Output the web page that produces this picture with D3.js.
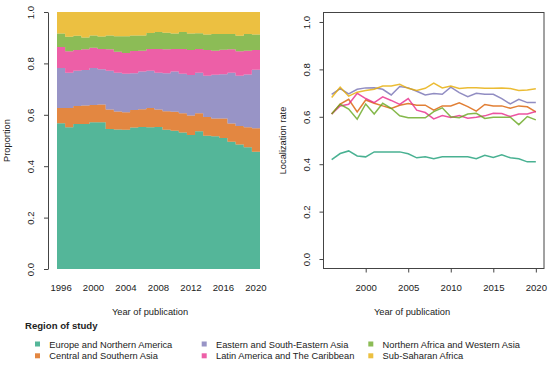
<!DOCTYPE html>
<html>
<head>
<meta charset="utf-8">
<script src="https://cdn.jsdelivr.net/npm/d3@7"></script>
<style>
  body { margin: 0; background: #fff; }
  svg text { font-family: "Liberation Sans", Arial, sans-serif; fill: #222; }
</style>
</head>
<body>
<div id="chart"></div>
<script>
// ---- data ----
const years = d3.range(1996, 2021);
const regions = [
    "Europe and Northern America",
    "Central and Southern Asia",
    "Eastern and South-Eastern Asia",
    "Latin America and The Caribbean",
    "Northern Africa and Western Asia",
    "Sub-Saharan Africa"
];
const colors = ["#1B9E77", "#D95F02", "#7570B3", "#E7298A", "#66A61E", "#E6AB02"];

// share of studies per region and year (left panel)
const shareEurope   = [0.567,0.552,0.564,0.564,0.571,0.571,0.545,0.543,0.542,0.551,0.553,0.552,0.553,0.542,0.538,0.531,0.521,0.536,0.518,0.517,0.510,0.495,0.484,0.474,0.456];
const shareCentral  = [0.059,0.074,0.070,0.072,0.067,0.069,0.076,0.070,0.068,0.068,0.069,0.074,0.068,0.072,0.074,0.075,0.076,0.070,0.073,0.069,0.076,0.071,0.072,0.078,0.092];
const shareEastern  = [0.156,0.138,0.137,0.138,0.144,0.137,0.150,0.151,0.150,0.143,0.146,0.145,0.143,0.148,0.156,0.154,0.158,0.158,0.161,0.170,0.172,0.198,0.196,0.205,0.227];
const shareLatin    = [0.082,0.083,0.081,0.081,0.079,0.079,0.084,0.081,0.080,0.086,0.081,0.085,0.092,0.093,0.088,0.096,0.097,0.092,0.100,0.093,0.095,0.091,0.095,0.092,0.077];
const shareNAfrica  = [0.052,0.057,0.056,0.046,0.048,0.049,0.054,0.061,0.066,0.061,0.060,0.062,0.066,0.064,0.060,0.066,0.064,0.061,0.060,0.065,0.061,0.059,0.061,0.065,0.060];
const shareSubSahar = [0.084,0.096,0.092,0.099,0.091,0.095,0.091,0.094,0.094,0.091,0.091,0.082,0.078,0.081,0.084,0.078,0.084,0.083,0.088,0.086,0.086,0.086,0.092,0.086,0.088];

// localization rate per region and year (right panel)
const rateEurope   = [0.419,0.445,0.456,0.435,0.431,0.452,0.452,0.452,0.452,0.444,0.427,0.431,0.423,0.431,0.431,0.431,0.431,0.423,0.438,0.428,0.440,0.427,0.423,0.410,0.410];
const rateCentral  = [0.612,0.654,0.674,0.621,0.671,0.657,0.646,0.635,0.649,0.656,0.649,0.649,0.628,0.646,0.646,0.659,0.643,0.624,0.652,0.646,0.646,0.636,0.646,0.642,0.621];
const rateEastern  = [0.695,0.719,0.697,0.716,0.722,0.723,0.716,0.692,0.728,0.722,0.708,0.692,0.698,0.695,0.725,0.702,0.685,0.699,0.695,0.695,0.677,0.654,0.674,0.660,0.660];
const rateLatin    = [0.612,0.646,0.653,0.699,0.677,0.660,0.684,0.669,0.652,0.677,0.628,0.618,0.591,0.605,0.597,0.605,0.594,0.598,0.604,0.615,0.614,0.601,0.612,0.612,0.622];
const rateNAfrica  = [0.612,0.653,0.633,0.590,0.654,0.612,0.657,0.636,0.604,0.596,0.596,0.596,0.622,0.638,0.600,0.596,0.612,0.615,0.593,0.598,0.598,0.598,0.567,0.601,0.587];
const rateSubSahar = [0.681,0.725,0.687,0.704,0.711,0.716,0.730,0.730,0.737,0.720,0.711,0.720,0.742,0.722,0.730,0.719,0.723,0.723,0.720,0.720,0.722,0.719,0.711,0.713,0.718];

const leftTicksX = [1996, 2000, 2004, 2008, 2012, 2016, 2020];
const rightTicksX = [2000, 2005, 2010, 2015, 2020];
const ticksY = [0, 0.2, 0.4, 0.6, 0.8, 1.0];

const shares = [shareEurope, shareCentral, shareEastern, shareLatin, shareNAfrica, shareSubSahar];
const rates = [rateEurope, rateCentral, rateEastern, rateLatin, rateNAfrica, rateSubSahar];

// ---- svg ----
const width = 550, height = 367;
const svg = d3.select("#chart").append("svg")
    .attr("width", width)
    .attr("height", height);

const fmt = d3.format(".1f");
const axisColor = "#444";
const tickFont = "9.6px", titleFont = "9.3px";

// rotate y tick labels like base R (las = 0)
function styleYAxis(g) {
    g.select(".domain").attr("stroke", axisColor);
    g.selectAll(".tick line").attr("stroke", axisColor);
    g.selectAll(".tick text")
        .attr("x", null).attr("dy", null)
        .attr("transform", "translate(-14,0) rotate(-90)")
        .attr("text-anchor", "middle")
        .style("font-size", tickFont)
        .attr("fill", "#222");
}

// ---- left panel: stacked proportions ----
const table = years.map((y, i) => {
    const row = {year: y};
    regions.forEach((r, k) => row[r] = shares[k][i]);
    return row;
});
const stacked = d3.stack().keys(regions)(table);

const xL = d3.scaleLinear().domain([1995.5, 2020.5]).range([57, 260]);
const yL = d3.scaleLinear().domain([0, 1]).range([269, 12]);

const stepArea = d3.area()
    .curve(d3.curveStepAfter)
    .x(d => xL(d.x))
    .y0(d => yL(d.y0))
    .y1(d => yL(d.y1));

const left = svg.append("g");
stacked.forEach((layer, k) => {
    // each year covers [year - 0.5, year + 0.5]
    const pts = layer.map(d => ({x: d.data.year - 0.5, y0: d[0], y1: d[1]}));
    const last = layer[layer.length - 1];
    pts.push({x: last.data.year + 0.5, y0: last[0], y1: last[1]});
    left.append("path")
        .datum(pts)
        .attr("d", stepArea)
        .attr("fill", colors[k])
        .attr("fill-opacity", 0.75);
});

left.append("g")
    .attr("transform", "translate(48,0)")
    .call(d3.axisLeft(yL).tickValues(ticksY).tickFormat(fmt).tickSize(4).tickSizeOuter(0))
    .call(styleYAxis);

left.append("g")
    .selectAll("text")
    .data(leftTicksX)
    .join("text")
    .attr("x", d => xL(d))
    .attr("y", 290.5)
    .attr("text-anchor", "middle")
    .style("font-size", tickFont)
    .text(d => d);

left.append("text")
    .attr("transform", "translate(10," + yL(0.5) + ") rotate(-90)")
    .attr("text-anchor", "middle")
    .style("font-size", titleFont)
    .text("Proportion");

left.append("text")
    .attr("x", 150)
    .attr("y", 314.5)
    .attr("text-anchor", "middle")
    .style("font-size", titleFont)
    .text("Year of publication");

// ---- right panel: localization rate ----
const xR = d3.scaleLinear().domain([1996 - 0.96, 2020 + 0.96]).range([323.5, 544]);
const yR = d3.scaleLinear().domain([-0.04, 1.04]).range([268.5, 12.5]);

const right = svg.append("g");

right.append("rect")
    .attr("x", 323.5).attr("y", 12.5)
    .attr("width", 544 - 323.5).attr("height", 268.5 - 12.5)
    .attr("fill", "none")
    .attr("stroke", axisColor);

const line = d3.line()
    .x((d, i) => xR(years[i]))
    .y(d => yR(d));

rates.forEach((r, k) => {
    right.append("path")
        .datum(r)
        .attr("d", line)
        .attr("fill", "none")
        .attr("stroke", colors[k])
        .attr("stroke-opacity", 0.8)
        .attr("stroke-width", 1.5);
});

right.append("g")
    .attr("transform", "translate(323.5,0)")
    .call(d3.axisLeft(yR).tickValues(ticksY).tickFormat(fmt).tickSize(4).tickSizeOuter(0))
    .call(g => g.select(".domain").remove())
    .call(styleYAxis);

right.append("g")
    .attr("transform", "translate(0,268.5)")
    .call(d3.axisBottom(xR).tickValues(rightTicksX).tickFormat(d3.format("d")).tickSize(4).tickSizeOuter(0))
    .call(g => g.select(".domain").remove())
    .call(g => g.selectAll(".tick line").attr("stroke", axisColor))
    .call(g => g.selectAll(".tick text")
        .attr("y", null).attr("dy", null)
        .attr("transform", "translate(0,22)")
        .style("font-size", tickFont)
        .attr("fill", "#222"));

right.append("text")
    .attr("transform", "translate(286," + yR(0.5) + ") rotate(-90)")
    .attr("text-anchor", "middle")
    .style("font-size", titleFont)
    .text("Localization rate");

right.append("text")
    .attr("x", 412)
    .attr("y", 314.5)
    .attr("text-anchor", "middle")
    .style("font-size", titleFont)
    .text("Year of publication");

// ---- legend ----
const legend = svg.append("g");
legend.append("text")
    .attr("x", 25)
    .attr("y", 328.8)
    .style("font-size", "9.6px")
    .style("font-weight", "bold")
    .text("Region of study");

const colX = [35, 201.7, 368.3];
const rowY = [341.5, 353.3];
const item = legend.selectAll("g.item")
    .data(regions)
    .join("g")
    .attr("class", "item")
    .attr("transform", (d, i) => "translate(" + colX[Math.floor(i / 2)] + "," + rowY[i % 2] + ")");

item.append("rect")
    .attr("width", 5).attr("height", 5)
    .attr("fill", (d, i) => colors[i])
    .attr("fill-opacity", 0.75);

item.append("text")
    .attr("x", 14.3)
    .attr("y", 6)
    .style("font-size", titleFont)
    .text(d => d);
</script>
</body>
</html>
